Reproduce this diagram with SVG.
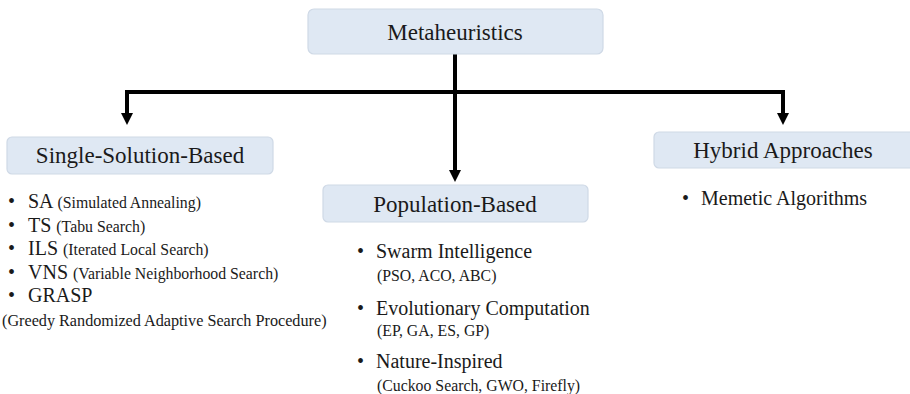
<svg xmlns="http://www.w3.org/2000/svg" width="910" height="394" viewBox="0 0 910 394">
  <style>
    .box { fill: #dfe8f3; stroke: #cfd9e6; stroke-width: 1.2; }
    text { font-family: 'Liberation Serif', 'Times New Roman', 'DejaVu Serif', serif; fill: #1a1a1a; }
    .head { font-size: 23px; text-anchor: middle; }
    .item { font-size: 20px; }
    .sub { font-size: 15.8px; }
    .wire { fill: none; stroke: #000; stroke-width: 4; }
  </style>

  <rect width="910" height="394" fill="#fff"/>

  <!-- connectors: trunk to the middle branch, bus to the outer branches -->
  <g id="connectors">
    <path class="wire" d="M455,54 L455,170"/>
    <path d="M449,170 L461,170 L455,182 Z" fill="#000"/>
    <path class="wire" d="M127,114 L127,92 L783,92 L783,114"/>
    <path d="M121,113 L133,113 L127,125 Z" fill="#000"/>
    <path d="M777,113 L789,113 L783,125 Z" fill="#000"/>
  </g>

  <!-- root -->
  <g id="metaheuristics">
    <rect class="box" x="308" y="9" width="295" height="45" rx="6"/>
    <text class="head" x="455" y="40">Metaheuristics</text>
  </g>

  <!-- single-solution branch -->
  <g id="single-solution">
    <rect class="box" x="7" y="137" width="266" height="37" rx="5"/>
    <text class="head" x="140" y="163">Single-Solution-Based</text>
    <text class="item" x="8" y="208">•</text>
    <text class="item" x="8" y="232">•</text>
    <text class="item" x="8" y="255">•</text>
    <text class="item" x="8" y="279">•</text>
    <text class="item" x="8" y="302">•</text>
    <text class="item" x="28" y="208">SA <tspan class="sub">(Simulated Annealing)</tspan></text>
    <text class="item" x="28" y="232">TS <tspan class="sub">(Tabu Search)</tspan></text>
    <text class="item" x="28" y="255">ILS <tspan class="sub">(Iterated Local Search)</tspan></text>
    <text class="item" x="28" y="279">VNS <tspan class="sub">(Variable Neighborhood Search)</tspan></text>
    <text class="item" x="28" y="302">GRASP</text>
    <text class="sub" x="2" y="326" style="font-size:16.2px">(Greedy Randomized Adaptive Search Procedure)</text>
  </g>

  <!-- population branch -->
  <g id="population">
    <rect class="box" x="323" y="185" width="265" height="37" rx="5"/>
    <text class="head" x="455" y="212">Population-Based</text>
    <text class="item" x="357" y="258">•</text>
    <text class="item" x="357" y="315">•</text>
    <text class="item" x="357" y="368">•</text>
    <text class="item" x="376" y="258">Swarm Intelligence</text>
    <text class="sub" x="377" y="281">(PSO, ACO, ABC)</text>
    <text class="item" x="376" y="315">Evolutionary Computation</text>
    <text class="sub" x="377" y="336">(EP, GA, ES, GP)</text>
    <text class="item" x="376" y="368">Nature-Inspired</text>
    <text class="sub" x="377" y="391">(Cuckoo Search, GWO, Firefly)</text>
  </g>

  <!-- hybrid branch -->
  <g id="hybrid">
    <rect class="box" x="654" y="132" width="262" height="36" rx="5"/>
    <text class="head" x="783" y="158">Hybrid Approaches</text>
    <text class="item" x="682" y="205">•</text>
    <text class="item" x="701" y="205">Memetic Algorithms</text>
  </g>
</svg>
